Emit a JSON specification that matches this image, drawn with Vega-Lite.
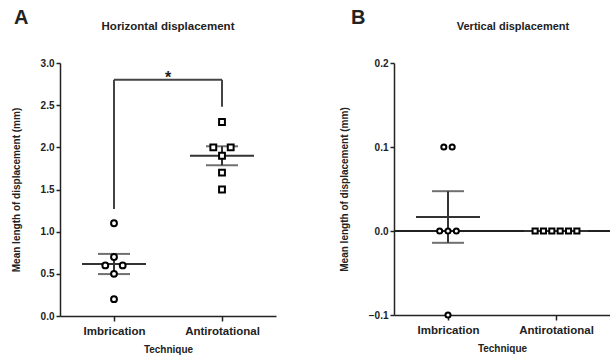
{
  "$schema": "https://vega.github.io/schema/vega-lite/v6.json",
  "padding": {"left": 11, "top": 7, "right": 0, "bottom": 0},
  "spacing": 63,
  "background": "white",
  "config": {
    "font": "Liberation Sans",
    "view": {"stroke": null},
    "axis": {
      "grid": false,
      "domainColor": "#222",
      "domainWidth": 1.5,
      "tickColor": "#222",
      "tickWidth": 1.5,
      "tickSize": 4,
      "labelFont": "Liberation Sans",
      "labelFontWeight": "bold",
      "labelColor": "#222",
      "titleFont": "Liberation Sans",
      "titleFontWeight": "bold",
      "titleColor": "#222"
    },
    "axisX": {"labelAngle": 0, "labelFontSize": 11.5, "titleFontSize": 10, "labelPadding": 4, "titlePadding": 8, "tickSize": 5},
    "axisY": {"labelFontSize": 10, "titleFontSize": 10, "titlePadding": 19, "labelPadding": 2},
    "title": {"font": "Liberation Sans", "fontWeight": "bold", "color": "#222"}
  },
  "datasets": {
    "horiz": [
      {"technique": "Imbrication", "value": 1.1},
      {"technique": "Imbrication", "value": 0.7},
      {"technique": "Imbrication", "value": 0.6},
      {"technique": "Imbrication", "value": 0.6},
      {"technique": "Imbrication", "value": 0.5},
      {"technique": "Imbrication", "value": 0.2},
      {"technique": "Antirotational", "value": 2.3},
      {"technique": "Antirotational", "value": 2.0},
      {"technique": "Antirotational", "value": 2.0},
      {"technique": "Antirotational", "value": 1.9},
      {"technique": "Antirotational", "value": 1.7},
      {"technique": "Antirotational", "value": 1.5}
    ],
    "vert": [
      {"technique": "Imbrication", "value": 0.1},
      {"technique": "Imbrication", "value": 0.1},
      {"technique": "Imbrication", "value": 0.0},
      {"technique": "Imbrication", "value": 0.0},
      {"technique": "Imbrication", "value": 0.0},
      {"technique": "Imbrication", "value": -0.1},
      {"technique": "Antirotational", "value": 0.0},
      {"technique": "Antirotational", "value": 0.0},
      {"technique": "Antirotational", "value": 0.0},
      {"technique": "Antirotational", "value": 0.0},
      {"technique": "Antirotational", "value": 0.0},
      {"technique": "Antirotational", "value": 0.0}
    ],
    "legs": [
      {"technique": "Imbrication", "top": 2.8, "bottom": 1.27},
      {"technique": "Antirotational", "top": 2.8, "bottom": 2.48}
    ],
    "bar": [
      {"from": "Imbrication", "to": "Antirotational", "y": 2.8}
    ],
    "star": [
      {"technique": "Imbrication", "y": 2.76, "label": "*"}
    ]
  },
  "hconcat": [
    {
      "title": {"text": "A", "anchor": "start", "frame": "group", "fontSize": 20, "dx": -46, "offset": -7},
      "vconcat": [
        {
          "width": 216,
          "height": 253,
          "title": {"text": "Horizontal displacement", "fontSize": 11.5, "offset": 26},
          "layer": [
            {
              "data": {"name": "horiz"},
              "mark": {"type": "errorbar", "extent": "stderr", "color": "#333", "thickness": 2, "ticks": {"size": 32, "thickness": 2, "color": "#333"}},
              "encoding": {
                "x": {"field": "technique", "type": "nominal", "sort": null, "scale": {"type": "point", "padding": 0.5, "domain": ["Imbrication", "Antirotational"]}, "title": "Technique"},
                "y": {"field": "value", "type": "quantitative", "scale": {"domain": [0, 3], "nice": false, "zero": false}, "axis": {"values": [0, 0.5, 1, 1.5, 2, 2.5, 3], "format": ".1f"}, "title": "Mean length of displacement (mm)"}
              }
            },
            {
              "data": {"name": "horiz"},
              "mark": {"type": "tick", "size": 64, "thickness": 2, "color": "#333"},
              "encoding": {
                "x": {"field": "technique", "type": "nominal", "sort": null, "scale": {"type": "point", "padding": 0.5, "domain": ["Imbrication", "Antirotational"]}, "title": "Technique"},
                "y": {"aggregate": "mean", "field": "value", "type": "quantitative", "title": "Mean length of displacement (mm)"}
              }
            },
            {
              "data": {"name": "legs"},
              "mark": {"type": "rule", "color": "#444", "strokeWidth": 2},
              "encoding": {
                "x": {"field": "technique", "type": "nominal", "sort": null, "scale": {"type": "point", "padding": 0.5, "domain": ["Imbrication", "Antirotational"]}, "title": "Technique"},
                "y": {"field": "top", "type": "quantitative", "title": "Mean length of displacement (mm)"},
                "y2": {"field": "bottom"}
              }
            },
            {
              "data": {"name": "bar"},
              "mark": {"type": "rule", "color": "#444", "strokeWidth": 2},
              "encoding": {
                "x": {"field": "from", "type": "nominal", "sort": null, "scale": {"type": "point", "padding": 0.5, "domain": ["Imbrication", "Antirotational"]}, "title": "Technique"},
                "x2": {"field": "to"},
                "y": {"field": "y", "type": "quantitative", "title": "Mean length of displacement (mm)"}
              }
            },
            {
              "data": {"name": "star"},
              "mark": {"type": "text", "dx": 54, "fontSize": 16, "fontWeight": "bold", "color": "#222", "baseline": "alphabetic"},
              "encoding": {
                "x": {"field": "technique", "type": "nominal", "sort": null, "scale": {"type": "point", "padding": 0.5, "domain": ["Imbrication", "Antirotational"]}, "title": "Technique"},
                "y": {"field": "y", "type": "quantitative", "title": "Mean length of displacement (mm)"},
                "text": {"field": "label"}
              }
            },
            {
              "data": {"name": "horiz"},
              "transform": [
                {"window": [{"op": "row_number", "as": "r"}], "groupby": ["technique", "value"]},
                {"joinaggregate": [{"op": "count", "as": "n"}], "groupby": ["technique", "value"]},
                {"calculate": "datum.r - (datum.n + 1) / 2", "as": "off"}
              ],
              "mark": {"type": "point", "filled": false, "strokeWidth": 2, "size": 34, "stroke": "black", "fill": "white", "opacity": 1, "fillOpacity": 1},
              "encoding": {
                "x": {"field": "technique", "type": "nominal", "sort": null, "scale": {"type": "point", "padding": 0.5, "domain": ["Imbrication", "Antirotational"]}, "title": "Technique"},
                "y": {"field": "value", "type": "quantitative", "title": "Mean length of displacement (mm)"},
                "xOffset": {"field": "off", "type": "quantitative", "scale": {"domain": [-1, 1], "range": [-17.4, 17.4]}},
                "shape": {"field": "technique", "type": "nominal", "scale": {"domain": ["Imbrication", "Antirotational"], "range": ["circle", "square"]}, "legend": null}
              }
            }
          ]
        }
      ]
    },
    {
      "title": {"text": "B", "anchor": "start", "frame": "group", "fontSize": 20, "dx": -43, "offset": -7},
      "vconcat": [
        {
          "width": 216,
          "height": 252,
          "title": {"text": "Vertical displacement", "fontSize": 11, "offset": 26, "dx": 11},
          "layer": [
            {
              "data": {"name": "vert"},
              "mark": {"type": "rule", "color": "#222", "strokeWidth": 1.5},
              "encoding": {
                "y": {"datum": 0, "type": "quantitative", "scale": {"domain": [-0.1, 0.2], "nice": false, "zero": false}, "axis": {"values": [-0.1, 0, 0.1, 0.2], "format": ".1f"}, "title": "Mean length of displacement (mm)"}
              }
            },
            {
              "data": {"name": "vert"},
              "mark": {"type": "errorbar", "extent": "stderr", "color": "#333", "thickness": 2, "ticks": {"size": 32, "thickness": 2, "color": "#333"}},
              "encoding": {
                "x": {"field": "technique", "type": "nominal", "sort": null, "scale": {"type": "point", "padding": 0.5, "domain": ["Imbrication", "Antirotational"]}, "title": "Technique"},
                "y": {"field": "value", "type": "quantitative", "title": "Mean length of displacement (mm)"}
              }
            },
            {
              "data": {"name": "vert"},
              "mark": {"type": "tick", "size": 64, "thickness": 2, "color": "#333"},
              "encoding": {
                "x": {"field": "technique", "type": "nominal", "sort": null, "scale": {"type": "point", "padding": 0.5, "domain": ["Imbrication", "Antirotational"]}, "title": "Technique"},
                "y": {"aggregate": "mean", "field": "value", "type": "quantitative", "title": "Mean length of displacement (mm)"}
              }
            },
            {
              "data": {"name": "vert"},
              "transform": [
                {"window": [{"op": "row_number", "as": "r"}], "groupby": ["technique", "value"]},
                {"joinaggregate": [{"op": "count", "as": "n"}], "groupby": ["technique", "value"]},
                {"calculate": "(datum.r - (datum.n + 1) / 2) * 0.48", "as": "off"}
              ],
              "mark": {"type": "point", "filled": false, "strokeWidth": 2, "size": 26, "stroke": "black", "fill": "white", "opacity": 1, "fillOpacity": 1},
              "encoding": {
                "x": {"field": "technique", "type": "nominal", "sort": null, "scale": {"type": "point", "padding": 0.5, "domain": ["Imbrication", "Antirotational"]}, "title": "Technique"},
                "y": {"field": "value", "type": "quantitative", "title": "Mean length of displacement (mm)"},
                "xOffset": {"field": "off", "type": "quantitative", "scale": {"domain": [-1, 1], "range": [-17.4, 17.4]}},
                "shape": {"field": "technique", "type": "nominal", "scale": {"domain": ["Imbrication", "Antirotational"], "range": ["circle", "square"]}, "legend": null}
              }
            }
          ]
        }
      ]
    }
  ]
}
